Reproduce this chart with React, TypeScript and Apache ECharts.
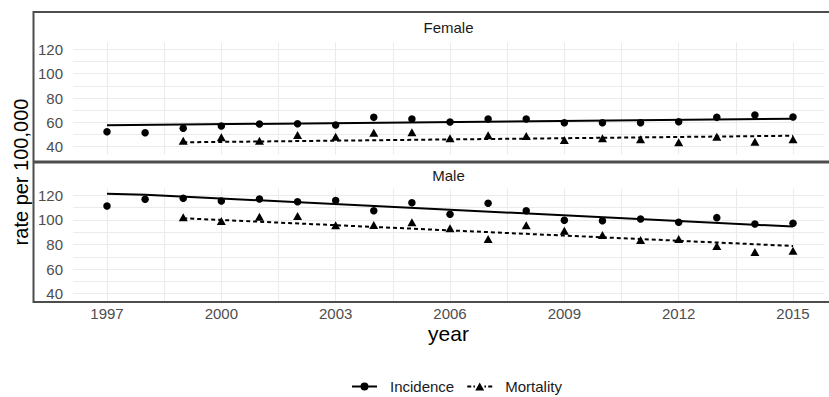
import React, { useEffect, useRef } from 'react';
import * as echarts from 'echarts';

// ---- Data ----
const years: number[] = [1997, 1998, 1999, 2000, 2001, 2002, 2003, 2004, 2005, 2006, 2007, 2008, 2009, 2010, 2011, 2012, 2013, 2014, 2015];

const femaleIncidence: (number | null)[] = [52.3, 51.5, 55.1, 57.0, 58.6, 58.9, 57.8, 64.1, 62.8, 60.3, 62.8, 62.8, 59.7, 59.7, 59.7, 60.5, 64.1, 66.0, 64.4];
const femaleMortality: (number | null)[] = [null, null, 44.9, 47.7, 44.9, 49.6, 48.2, 51.5, 51.8, 46.9, 49.4, 48.8, 45.5, 46.9, 46.1, 43.6, 48.2, 44.1, 46.1];
const maleIncidence: (number | null)[] = [111.4, 116.9, 117.7, 115.5, 117.1, 114.9, 115.8, 107.6, 114.1, 104.7, 113.6, 107.6, 99.8, 99.4, 100.8, 98.1, 101.9, 96.7, 97.3];
const maleMortality: (number | null)[] = [null, null, 102.2, 99.2, 102.7, 103.3, 95.7, 95.9, 98.1, 93.2, 84.5, 95.7, 91.3, 87.8, 83.7, 84.5, 78.8, 73.9, 75.0];

const femaleIncidenceTrendYears: number[] = [1997, 2015];
const femaleIncidenceTrend: number[] = [57.6, 62.9];
const femaleMortalityTrendYears: number[] = [1999, 2015];
const femaleMortalityTrend: number[] = [43.6, 49.0];
const maleIncidenceTrendYears: number[] = [1997, 1998, 2015];
const maleIncidenceTrend: number[] = [121.3, 120.6, 94.6];
const maleMortalityTrendYears: number[] = [1999, 2015];
const maleMortalityTrend: number[] = [101.4, 78.8];

const yTickLabels: number[] = [40, 60, 80, 100, 120];
const xTickYears: number[] = [1997, 2000, 2003, 2006, 2009, 2012, 2015];
const panelNames: string[] = ['Female', 'Male'];
const seriesNames: string[] = ['Incidence', 'Mortality'];

// ---- Layout / style ----
const BASE_YEAR = 1997;
const FONT = "'Liberation Sans', Arial, Helvetica, sans-serif";
const X_MIN = -0.892;
const X_MAX = 18.813;
const Y_MIN = 33.5;
const Y_MAX = 125.6;
const LEFT = 73;
const RIGHT = 829 - 824;
const PANELS = [
  { top: 42.5, bottom: 154.6 },
  { top: 188.6, bottom: 301.5 },
];
const GRID_COLOR = '#ebebeb';
const TICK_COLOR = '#4d4d4d';

const ICON_INC = 'path://M8.5,4.5A4,4 0 1 1 16.5,4.5A4,4 0 1 1 8.5,4.5Z M0,3.5H25V5.5H0Z';
const ICON_MORT = 'path://M12.5,0.5L17,8.5H8Z M0,3.5H4V5.5H0Z M6.2,3.5H7.8V5.5H6.2Z M17.2,3.5H18.8V5.5H17.2Z M21,3.5H25V5.5H21Z';

const pairs = (xs: number[], vs: (number | null)[]) =>
  xs.map((x, i) => [x - BASE_YEAR, vs[i]]);

export default function App() {
  const ref = useRef<HTMLDivElement>(null);

  useEffect(() => {
    const chart = echarts.init(ref.current!, null, { renderer: 'svg' });

    const grids = PANELS.map((p) => ({
      left: LEFT,
      right: RIGHT,
      top: p.top,
      height: p.bottom - p.top,
      containLabel: false,
    }));

    const xAxes = PANELS.map((_, gi) => ({
      type: 'value',
      gridIndex: gi,
      min: X_MIN,
      max: X_MAX,
      minInterval: 1.5,
      maxInterval: 1.5,
      axisLine: { show: false },
      axisTick: { show: false },
      axisLabel: {
        show: gi === 1,
        margin: 4,
        fontSize: 15,
        color: TICK_COLOR,
        fontFamily: FONT,
        showMinLabel: false,
        showMaxLabel: false,
        formatter: (v: number) => {
          const yr = Math.round(v) + BASE_YEAR;
          return Math.abs(v - Math.round(v)) < 1e-6 && xTickYears.includes(yr) ? String(yr) : '';
        },
      },
      splitLine: {
        show: true,
        showMinLine: false,
        showMaxLine: false,
        lineStyle: { color: GRID_COLOR, width: 1 },
      },
    }));

    const yAxes = PANELS.map((_, gi) => ({
      type: 'value',
      gridIndex: gi,
      min: Y_MIN,
      max: Y_MAX,
      minInterval: 10,
      maxInterval: 10,
      axisLine: { show: false },
      axisTick: { show: false },
      axisLabel: {
        margin: 10,
        fontSize: 15,
        color: TICK_COLOR,
        fontFamily: FONT,
        showMinLabel: false,
        showMaxLabel: false,
        formatter: (v: number) => {
          const r = Math.round(v);
          return Math.abs(v - r) < 1e-6 && yTickLabels.includes(r) ? String(r) : '';
        },
      },
      splitLine: {
        show: true,
        showMinLine: false,
        showMaxLine: false,
        lineStyle: { color: GRID_COLOR, width: 1 },
      },
    }));

    const panelData = [
      {
        inc: femaleIncidence,
        mort: femaleMortality,
        incTY: femaleIncidenceTrendYears,
        incT: femaleIncidenceTrend,
        mortTY: femaleMortalityTrendYears,
        mortT: femaleMortalityTrend,
      },
      {
        inc: maleIncidence,
        mort: maleMortality,
        incTY: maleIncidenceTrendYears,
        incT: maleIncidenceTrend,
        mortTY: maleMortalityTrendYears,
        mortT: maleMortalityTrend,
      },
    ];

    const series: any[] = [];
    panelData.forEach((d, gi) => {
      series.push({
        name: seriesNames[0] + ' trend',
        type: 'line',
        xAxisIndex: gi,
        yAxisIndex: gi,
        data: pairs(d.incTY, d.incT),
        showSymbol: false,
        symbol: 'none',
        lineStyle: { color: '#000', width: 2, type: 'solid' },
        itemStyle: { color: '#000' },
        silent: true,
        z: 3,
      });
      series.push({
        name: seriesNames[1] + ' trend',
        type: 'line',
        xAxisIndex: gi,
        yAxisIndex: gi,
        data: pairs(d.mortTY, d.mortT),
        showSymbol: false,
        symbol: 'none',
        lineStyle: { color: '#000', width: 2, type: [4, 3] },
        itemStyle: { color: '#000' },
        silent: true,
        z: 3,
      });
      series.push({
        name: seriesNames[0],
        type: 'scatter',
        xAxisIndex: gi,
        yAxisIndex: gi,
        data: pairs(years, d.inc).filter((p) => p[1] != null),
        symbol: 'circle',
        symbolSize: 7.5,
        itemStyle: { color: '#000', opacity: 1 },
        z: 4,
      });
      series.push({
        name: seriesNames[1],
        type: 'scatter',
        xAxisIndex: gi,
        yAxisIndex: gi,
        data: pairs(years, d.mort).filter((p) => p[1] != null),
        symbol: 'triangle',
        symbolSize: [9, 8],
        itemStyle: { color: '#000', opacity: 1 },
        z: 4,
      });
    });

    const option: any = {
      animation: false,
      backgroundColor: '#ffffff',
      grid: grids,
      xAxis: xAxes,
      yAxis: yAxes,
      series,
      legend: {
        left: 352,
        top: 379,
        padding: 0,
        orient: 'horizontal',
        itemWidth: 25,
        itemHeight: 8,
        itemGap: 13,
        selectedMode: false,
        textStyle: {
          fontSize: 15,
          color: '#1a1a1a',
          fontFamily: FONT,
          padding: [0, 0, 0, 8],
        },
        data: [
          { name: seriesNames[0], icon: ICON_INC },
          { name: seriesNames[1], icon: ICON_MORT },
        ],
      },
      graphic: [
        {
          type: 'rect',
          z: 100,
          silent: true,
          shape: { x: 33.5, y: 12, width: 805, height: 290 },
          style: { fill: 'none', stroke: '#4d4d4d', lineWidth: 2 },
        },
        {
          type: 'line',
          z: 100,
          silent: true,
          shape: { x1: 33, y1: 162, x2: 829, y2: 162 },
          style: { stroke: '#4d4d4d', lineWidth: 3 },
        },
        {
          type: 'text',
          z: 100,
          x: (LEFT + 824) / 2,
          y: 27,
          style: { text: panelNames[0], fontSize: 15, fill: '#1a1a1a', fontFamily: FONT, align: 'center', verticalAlign: 'middle' },
        },
        {
          type: 'text',
          z: 100,
          x: (LEFT + 824) / 2,
          y: 175,
          style: { text: panelNames[1], fontSize: 15, fill: '#1a1a1a', fontFamily: FONT, align: 'center', verticalAlign: 'middle' },
        },
        {
          type: 'text',
          z: 100,
          x: 21,
          y: 172,
          rotation: Math.PI / 2,
          style: { text: 'rate per 100,000', fontSize: 20, fill: '#000', fontFamily: FONT, align: 'center', verticalAlign: 'middle' },
        },
        {
          type: 'text',
          z: 100,
          x: (LEFT + 824) / 2,
          y: 333,
          style: { text: 'year', fontSize: 21, fill: '#000', fontFamily: FONT, align: 'center', verticalAlign: 'middle' },
        },
      ],
    };

    chart.setOption(option);
    return () => chart.dispose();
  }, []);

  return (
    <div
      ref={ref}
      style={{ position: 'fixed', left: 0, top: 0, width: 829, height: 397, background: '#fff' }}
    />
  );
}
